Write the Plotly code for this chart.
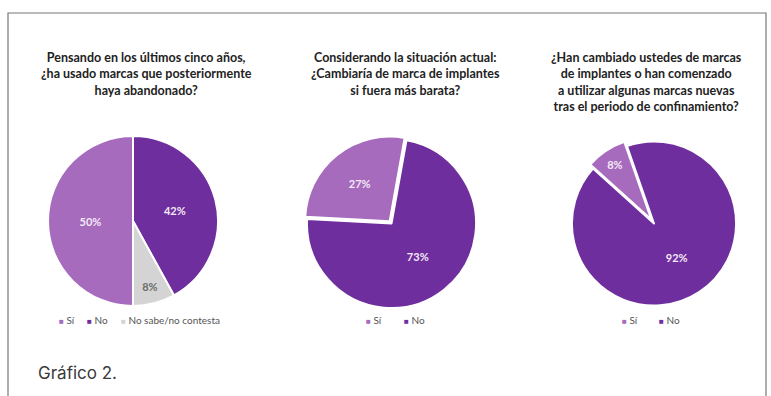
import plotly.graph_objects as go

W, H = 771, 396

# ---- data ----
labels1 = ["Sí", "No", "No sabe/no contesta"]
values1 = [50, 42, 8]
labels2 = ["Sí", "No"]
values2 = [27, 73]
labels3 = ["Sí", "No"]
values3 = [8, 92]

titles = [
    "Pensando en los últimos cinco años,<br>¿ha usado marcas que posteriormente<br>haya abandonado?",
    "Considerando la situación actual:<br>¿Cambiaría de marca de implantes<br>si fuera más barata?",
    "¿Han cambiado ustedes de marcas<br>de implantes o han comenzado<br>a utilizar algunas marcas nuevas<br>tras el periodo de confinamiento?",
]

LIGHT = "#a66bbd"
DARK = "#6e2e9e"
GREY = "#d4d4d4"
colors1 = [LIGHT, DARK, GREY]
colors2 = [LIGHT, DARK]
colors3 = [LIGHT, DARK]


def px_dom(cx, cy, r):
    return dict(x=[(cx - r) / W, (cx + r) / W], y=[1 - (cy + r) / H, 1 - (cy - r) / H])


fig = go.Figure()

txt_col = "#f5e9f7"
common = dict(
    sort=False,
    direction="clockwise",
    textinfo="text",
    textposition="inside",
    insidetextorientation="horizontal",
    marker_line=dict(color="white", width=2),
    showlegend=False,
    hoverinfo="label+percent",
)

fig.add_trace(go.Pie(
    labels=labels1, values=values1, text=[f"{v}%" for v in values1],
    marker_colors=colors1, rotation=180,
    textfont=dict(family="Lato", size=11, color=[txt_col, txt_col, "#6d6d6d"], weight="bold"),
    domain=px_dom(133, 221, 85), **common))

fig.add_trace(go.Pie(
    labels=labels2, values=values2, text=[f"{v}%" for v in values2],
    marker_colors=colors2, rotation=-87, pull=[0.035, 0],
    textfont=dict(family="Lato", size=11, color=txt_col, weight="bold"),
    domain=px_dom(391.5, 223.5, 87.5), **common))

fig.add_trace(go.Pie(
    labels=labels3, values=values3, text=[f"{v}%" for v in values3],
    marker_colors=colors3, rotation=-48, pull=[0.06, 0],
    textfont=dict(family="Lato", size=11, color=txt_col, weight="bold"),
    domain=px_dom(654, 223.5, 87), **common))

annos = []
# titles
for t, cx in zip(titles, [146, 405, 646]):
    annos.append(dict(x=cx / W, y=1 - 48 / H, xref="paper", yref="paper",
                      xanchor="center", yanchor="top", showarrow=False, text=t,
                      align="center",
                      font=dict(family="Lato", size=12.5, color="#222", weight="bold")))

# legends (built from labels/colors)
def legend_items(labels, colors, xs):
    for lab, col, x in zip(labels, colors, xs):
        annos.append(dict(x=x / W, y=1 - 320 / H, xref="paper", yref="paper",
                          xanchor="left", yanchor="middle", showarrow=False,
                          text=f"<span style='color:{col};font-size:8px'>■</span> {lab}",
                          font=dict(family="Lato", size=10, color="#555")))

legend_items(labels1, colors1, [57, 85, 119])
legend_items(labels2, colors2, [364, 402])
legend_items(labels3, colors3, [620, 657])

annos.append(dict(x=36 / W, y=1 - 373 / H, xref="paper", yref="paper",
                  xanchor="left", yanchor="middle", showarrow=False,
                  text="Gráfico 2.", font=dict(family="Inter", size=17, color="#3a3a3a")))

fig.update_layout(
    width=W, height=H,
    margin=dict(l=0, r=0, t=0, b=0),
    paper_bgcolor="white",
    annotations=annos,
    shapes=[dict(type="path", xref="paper", yref="paper",
                 path=f"M {8/W},-0.1 L {8/W},{1-13/H} L {766/W},{1-13/H} L {766/W},-0.1",
                 line=dict(color="#777", width=1.2))],
)

fig.write_html("out.html")
